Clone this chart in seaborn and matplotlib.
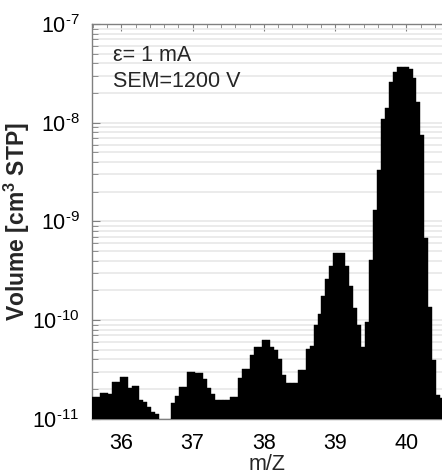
import numpy as np
import matplotlib
matplotlib.use("Agg")
import matplotlib.pyplot as plt
import seaborn as sns
import pandas as pd
from matplotlib.ticker import LogLocator, MultipleLocator, NullFormatter, FuncFormatter

# scan step of the mass spectrometer (1/18 amu), bin centres in m/Z
step = 1.0 / 18
mz = np.round(35.586 + step * (np.arange(89) + 0.5), 4)

volume = [
    1.65e-11, 1.65e-11, 1.83e-11, 1.83e-11, 1.79e-11, 2.34e-11, 2.34e-11, 2.62e-11,
    2.62e-11, 2.03e-11, 2.16e-11, 2.16e-11, 1.55e-11, 1.47e-11, 1.31e-11, 1.17e-11,
    1.11e-11, 0.0, 0.0, 0.0, 1.43e-11, 1.71e-11, 2.11e-11, 2.11e-11,
    2.99e-11, 2.99e-11, 2.92e-11, 2.92e-11, 2.51e-11, 2.03e-11, 1.77e-11, 1.55e-11,
    1.55e-11, 1.55e-11, 1.55e-11, 1.67e-11, 1.67e-11, 2.56e-11, 3.16e-11, 3.16e-11,
    4.42e-11, 5.28e-11, 5.28e-11, 6.27e-11, 6.27e-11, 5.28e-11, 4.97e-11, 4.00e-11,
    2.77e-11, 2.29e-11, 2.29e-11, 2.29e-11, 3.14e-11, 3.14e-11, 5.13e-11, 5.50e-11,
    8.89e-11, 1.14e-10, 1.76e-10, 2.60e-10, 3.55e-10, 4.81e-10, 4.81e-10, 4.81e-10,
    3.55e-10, 2.21e-10, 1.33e-10, 8.83e-11, 5.32e-11, 9.62e-11, 4.06e-10, 1.29e-9,
    3.31e-9, 1.09e-8, 1.42e-8, 2.59e-8, 3.23e-8, 3.68e-8, 3.68e-8, 3.68e-8,
    3.47e-8, 2.85e-8, 1.63e-8, 7.48e-9, 6.73e-10, 1.36e-10, 3.94e-11, 1.74e-11,
    1.61e-11,
]
mass_ticks = [36, 37, 38, 39, 40]

df = pd.DataFrame({'mz': mz, 'volume': volume})

sns.set_style("ticks")
plt.rcParams['font.family'] = ['Liberation Sans', 'DejaVu Sans']
plt.rcParams['font.size'] = 15


def pow10(v, pos):
    # MATLAB style: hyphen instead of a wide minus sign
    e = int(round(np.log10(v)))
    return r'$\mathregular{10^{%s%d}}$' % ('\u2010' if e < 0 else '', abs(e))


fig = plt.figure(figsize=(4.42, 4.76), dpi=100)
ax = fig.add_axes([0.208, 0.1204, 0.792, 0.8292])

edges = list(35.586 + step * np.arange(90))
sns.histplot(data=df, x='mz', weights='volume', bins=edges, color='black',
             alpha=1, edgecolor='black', linewidth=0.3, ax=ax, zorder=3)
ax.set_yscale('log')
ax.set_ylim(1e-11, 1e-7)
ax.set_xlim(35.586, 40.5)

ax.yaxis.set_major_locator(LogLocator(base=10, numticks=10))
ax.yaxis.set_major_formatter(FuncFormatter(pow10))
ax.yaxis.set_minor_locator(LogLocator(base=10, subs=np.arange(2, 10), numticks=10))
ax.yaxis.set_minor_formatter(NullFormatter())
ax.set_xticks(mass_ticks)
ax.xaxis.set_minor_locator(MultipleLocator(0.2))

ax.grid(True, which='both', axis='y', color='#e6e6e6', linewidth=1.1, zorder=0)
ax.set_axisbelow(True)

ax.tick_params(axis='both', which='both', direction='in', colors='#808080',
               labelcolor='black', labelsize=15.5)
ax.tick_params(axis='x', which='both', top=True, bottom=False, pad=10)
ax.tick_params(axis='x', which='major', length=5)
ax.tick_params(axis='x', which='minor', length=3)
ax.tick_params(axis='y', which='major', length=6, pad=9)
ax.tick_params(axis='y', which='minor', length=4)
for side in ['left', 'bottom', 'top']:
    ax.spines[side].set_color('#808080')
    ax.spines[side].set_linewidth(1.0)
ax.spines['right'].set_visible(False)

ax.set_xlabel('m/Z', fontsize=15.5, labelpad=0)
ax.set_ylabel(r'Volume [cm$^\mathregular{3}$ STP]', fontsize=16.5,
              fontweight='bold')
ax.yaxis.set_label_coords(-0.172, 0.5)

ax.text(0.06, 0.92, 'ε= 1 mA', transform=ax.transAxes, fontsize=15.5,
        va='center', ha='left')
ax.text(0.06, 0.855, 'SEM=1200 V', transform=ax.transAxes, fontsize=15.5,
        va='center', ha='left')

fig.savefig('out.png', dpi=100)
